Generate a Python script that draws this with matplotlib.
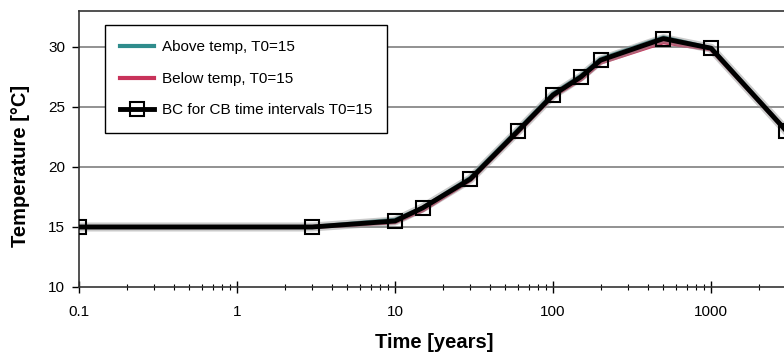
import matplotlib
matplotlib.use('Agg')
import matplotlib.pyplot as plt
from matplotlib.ticker import LogLocator, FixedLocator, NullFormatter

plt.rcParams['font.family'] = ['Liberation Sans', 'DejaVu Sans']

# Time points [years] and temperatures [degC]
time_years = [0.1, 3, 10, 15, 30, 60, 100, 150, 200, 500, 1000, 3000]
temp_above = [15.0, 15.0, 15.6, 16.6, 19.1, 23.1, 26.1, 27.6, 29.0, 30.8, 29.9, 23.0]
temp_below = [15.0, 15.0, 15.4, 16.4, 18.9, 22.9, 25.9, 27.3, 28.7, 30.4, 29.8, 23.0]
temp_bc = [15.0, 15.0, 15.5, 16.6, 19.0, 23.0, 26.0, 27.5, 28.9, 30.7, 29.9, 23.0]

y_ticks = [10, 15, 20, 25, 30]
x_ticks = [0.1, 1, 10, 100, 1000]
x_ticklabels = ['0.1', '1', '10', '100', '1000']

W, H = 784, 359
ax_left, ax_right, ax_bottom, ax_top = 79, 789, 287, 11
x_max = 10 ** (-1 + (ax_right - ax_left) / 158)

fig = plt.figure(figsize=(W / 100, H / 100), dpi=100)
ax = fig.add_axes([ax_left / W, (H - ax_bottom) / H,
                   (ax_right - ax_left) / W, (ax_bottom - ax_top) / H])

ax.set_xscale('log')
ax.set_xlim(0.1, x_max)
ax.set_ylim(10, 33)

for y in y_ticks[1:]:
    ax.axhline(y, color='#7f7f7f', lw=1.2, zorder=0)

ax.plot(time_years, temp_above, color='#2f8c8c', lw=3, label='Above temp, T0=15', zorder=2)
ax.plot(time_years, temp_below, color='#c8325a', lw=3, label='Below temp, T0=15', zorder=2)
ax.plot(time_years, temp_bc, color='#999999', lw=6.5, alpha=0.5, zorder=2.5)
ax.plot(time_years, temp_bc, color='black', lw=3.5, marker='s', markersize=10.5,
        markerfacecolor='none', markeredgecolor='black', markeredgewidth=1.5,
        label='BC for CB time intervals T0=15', zorder=3)

ax.set_yticks(y_ticks)
ax.xaxis.set_major_locator(FixedLocator(x_ticks))
ax.set_xticklabels(x_ticklabels)
ax.xaxis.set_minor_locator(LogLocator(base=10, subs=range(2, 10)))
ax.xaxis.set_minor_formatter(NullFormatter())
ax.tick_params(axis='x', which='major', direction='inout', length=8, width=1, pad=9, labelsize=11)
ax.tick_params(axis='x', which='minor', direction='inout', length=5, width=0.8)
ax.tick_params(axis='y', direction='out', length=5, width=1, pad=5, labelsize=11)

for side in ['top', 'left', 'bottom']:
    ax.spines[side].set_color('#333333')
    ax.spines[side].set_linewidth(1.2)
ax.spines['right'].set_visible(False)

ax_w = ax_right - ax_left
ax_h = ax_bottom - ax_top
ax.set_xlabel('Time [years]', fontsize=14.5, fontweight='bold')
ax.set_ylabel('Temperature [\u00b0C]', fontsize=14.5, fontweight='bold')
ax.xaxis.set_label_coords((434 - ax_left) / ax_w, -(342 - ax_bottom) / ax_h)
ax.yaxis.set_label_coords((21 - ax_left) / ax_w, (ax_bottom - 166) / ax_h)
ax.xaxis.label.set_va('center')
ax.yaxis.label.set_va('center')

leg = ax.legend(loc='upper left',
                bbox_to_anchor=((105 - ax_left) / ax_w, (ax_bottom - 25) / ax_h),
                borderaxespad=0, fontsize=11, handlelength=2.2, labelspacing=1.15,
                fancybox=False, framealpha=1, edgecolor='black', borderpad=1.0,
                handletextpad=0.5)
leg.get_frame().set_linewidth(1.0)

fig.savefig('out.png', dpi=100)
